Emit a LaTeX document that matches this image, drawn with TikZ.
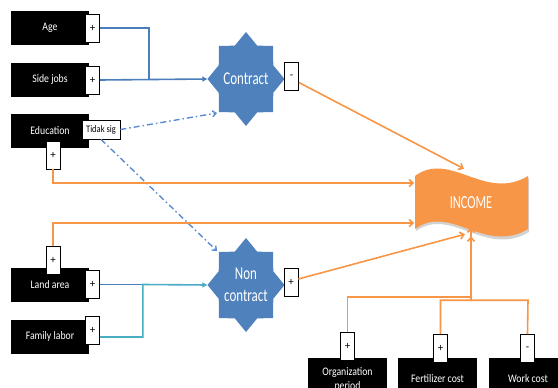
\documentclass[tikz,border=0pt]{standalone}
\usepackage{fontspec}
\setmainfont{Carlito}
\newfontfamily\boxfont[FakeStretch=0.85]{Carlito}
\newfontfamily\starfont[FakeStretch=0.72]{Carlito}
\newfontfamily\incfont[FakeStretch=0.67]{Carlito}
\usetikzlibrary{arrows.meta,calc}
\definecolor{lineblue}{HTML}{4A7EBB}
\definecolor{starblue}{HTML}{4F81BD}
\definecolor{linecyan}{HTML}{4BACC6}
\definecolor{ddblue}{HTML}{5B8BD0}
\definecolor{incorange}{HTML}{F79646}
\newcommand\octostar[1]{\fill[starblue, shift={(#1)}] plot[samples at={0,...,15}, variable=\k]
  ({(isodd(\k) ? 29.5 : 38.5)*cos(\k*22.5)}, {(isodd(\k) ? 36 : 47)*sin(\k*22.5)}) -- cycle;}
\begin{document}
\begin{tikzpicture}[x=1pt,y=-1pt,
  blackbox/.style={fill=black, text=white, minimum width=78pt, minimum height=34pt, inner sep=0pt,
    font=\boxfont\fontsize{11.5}{13}\selectfont},
  bottombox/.style={blackbox, minimum width=79pt, minimum height=42pt, align=center},
  signbox/.style={draw=black, fill=white, line width=0.8pt, minimum width=14pt, minimum height=28pt,
    inner sep=0pt, font=\fontsize{11}{12}\selectfont},
  startext/.style={text=white, font=\starfont\fontsize{18}{22}\selectfont, align=center,
    minimum width=77pt, minimum height=94pt, inner sep=0pt},
  inctext/.style={text=white, font=\incfont\fontsize{18.5}{22}\selectfont,
    minimum width=113pt, minimum height=54pt, inner sep=0pt},
  tidakbox/.style={draw=black, fill=white, line width=0.8pt, minimum width=38pt, minimum height=19pt,
    inner sep=0pt, font=\boxfont\fontsize{10}{12}\selectfont},
  bline/.style={draw=lineblue, line width=1.6pt},
  cline/.style={draw=linecyan, line width=1.6pt},
  oline/.style={draw=incorange, line width=1.6pt},
  btip/.style={-{Triangle[length=5pt,width=5pt]}},
  otip/.style={-{Straight Barb[length=4pt,width=7pt]}},
  ddline/.style={draw=ddblue, line width=1.4pt, dash pattern=on 6pt off 3pt on 1.5pt off 3pt,
    -{Straight Barb[length=3.5pt,width=6pt]}}
]
\clip (0,0) rectangle (558,388);
\fill[white] (0,0) rectangle (558,388);

% stars
\octostar{246,79}
\octostar{246,285}
\node[startext] (contract) at (246,79) {Contract};
\node[startext] (noncontract) at (246,285) {Non\\contract};

% income banner
\fill[gray!35] (416,178) .. controls (451,152) and (486,204) .. (529,178) -- (529,232)
  .. controls (486,258) and (451,206) .. (416,231) -- cycle;
\fill[incorange] (415,176) .. controls (450,150) and (485,202) .. (528,176) -- (528,229)
  .. controls (485,255) and (450,203) .. (415,229) -- cycle;
\node[inctext] (income) at (471,203) {INCOME};

% left boxes
\node[blackbox] (age) at (50,28) {Age};
\node[blackbox] (side) at (50,79.5) {Side jobs};
\node[blackbox] (edu) at (50,130.5) {Education};
\node[blackbox] (land) at (50,285) {Land area};
\node[blackbox] (fam) at (50,336.5) {Family labor};

% bottom boxes
\node[bottombox, font=\boxfont\fontsize{11.5}{15}\selectfont] (org) at (347.5,379) {Organization\\[-1pt]period};
\node[bottombox] (fert) at (437.5,379) {Fertilizer cost};
\node[bottombox] (work) at (528,379) {Work cost};

% sign boxes
\node[signbox] (ageplus) at (92.5,28) {+};
\node[signbox] (sideplus) at (92.5,80) {+};
\node[tidakbox] (tidak) at (101,129.5) {Tidak sig};
\node[signbox] (eduplus) at (53,155) {+};
\node[signbox] (landtop) at (53,260.5) {+};
\node[signbox] (landplus) at (92.5,284.5) {+};
\node[signbox] (famplus) at (92.5,330) {+};
\node[signbox] (cminus) at (291.5,76.5) {-};
\node[signbox] (ncplus) at (291,282) {+};
\node[signbox] (orgplus) at (347.5,346) {+};
\node[signbox] (fertplus) at (440.5,348.5) {+};
\node[signbox] (workminus) at (527.5,348.5) {-};

% blue connectors
\draw[bline] (ageplus.east) -| ($(ageplus.east)+(49,51)$);
\draw[bline, btip] (sideplus.east) -- (contract.west);
\draw[bline] (landplus.east) -- ($(landplus.east)+(43,0)$);
\draw[cline, btip] ($(famplus.east)+(0,7)$) -| ($(landplus.east)+(43,0)$) -- (noncontract.west);

% dash-dot connectors
\draw[ddline] (tidak.east) -- ($(contract)+(-29,34)$);
\draw[ddline] (tidak.south) -- ($(noncontract)+(-29,-34)$);

% orange connectors
\draw[oline, otip] ($(cminus.east)+(0,6)$) -- ($(income.north)+(-7,-7)$);
\draw[oline, otip] ($(ncplus.east)+(0,-3)$) -- ($(income.south)+(-6,4)$);
\draw[oline, otip] (eduplus.south) |- ($(income.west)+(0,-20)$);
\draw[oline, otip] (landtop.north) |- ($(income.west)+(0,20)$);
\draw[oline, otip] (orgplus.north) |- ($(income.south)+(0,67)$) -- ($(income.south)+(0,-3)$);
\draw[oline] (fertplus.north) |- ($(income.south)+(57,70)$) -- (workminus.north);
\draw[oline, otip] ($(income.south)+(0,70)$) -- ($(income.south)+(0,6)$);
\end{tikzpicture}
\end{document}
